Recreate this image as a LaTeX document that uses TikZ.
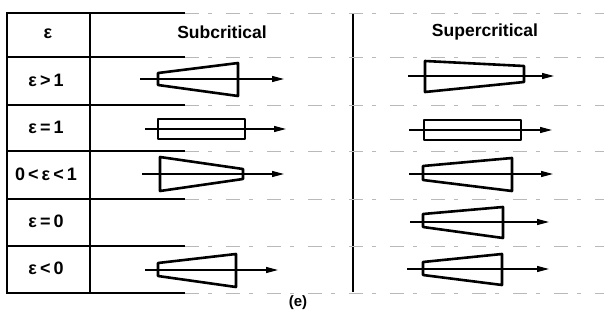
\documentclass[tikz,border=0pt]{standalone}
\usepackage{fontspec}
\setmainfont{Liberation Sans}
\usetikzlibrary{arrows.meta}
\tikzset{
  tbl/.style={line width=1.8pt},
  sep/.style={line width=2.6pt},
  faint/.style={line width=0.8pt, gray!55, dash pattern=on 14pt off 9pt on 4pt off 14pt},
  body/.style={line width=2.6pt, line join=round},
  axis/.style={line width=1.2pt, -{Triangle[length=12pt,width=6pt]}},
  lab/.style={font=\fontsize{18}{18}\selectfont\bfseries},
  head/.style={font=\fontsize{17.5}{18}\selectfont\bfseries},
}
\begin{document}
\begin{tikzpicture}[x=1pt,y=-1pt]
\useasboundingbox (0,0) rectangle (606,322);
% table frame
\coordinate (tl) at (7,13); \coordinate (bl) at (7,293);
\coordinate (vt) at (90,13); \coordinate (vb) at (90,293);
\coordinate (rt) at (353,13); \coordinate (rb) at (353,292);
\draw[sep] (tl) -- (bl);
\draw[sep] (vt) -- (vb);
\draw[sep] (rt) -- (rb);
\foreach \y in {13,57,105,151,199,246,293}{
  \draw[tbl] (6,\y) -- (185,\y);
  \draw[faint] (185,\y) -- (604,\y);
}
% headers
\node[lab] (h0) at (48,34) {ε};
\node[head] (h1) at (222,32) {Subcritical};
\node[head] (h2) at (485,32) {Supercritical};
% row labels
\node[lab] (r1) at (46,80) {ε\hspace{3pt}>\hspace{3pt}1};
\node[lab] (r2) at (46,127) {ε\hspace{3pt}=\hspace{3pt}1};
\node[lab, inner sep=0pt] (r3) at (46,174) {0\hspace{3pt}<\hspace{3pt}ε\hspace{3pt}<\hspace{3pt}1};
\node[lab] (r4) at (46,221) {ε\hspace{3pt}=\hspace{3pt}0};
\node[lab] (r5) at (46,268) {ε\hspace{3pt}<\hspace{3pt}0};
% ---- subcritical ----
% row 1
\draw[body] (158,73) -- (238,63) -- (238,96) -- (158,85) -- cycle;
\coordinate (a1s) at (140,79); \coordinate (a1e) at (284,79);
\draw[axis] (a1s) -- (a1e);
% row 2
\draw[body] (158,119) rectangle (245,139);
\coordinate (a2s) at (145,129); \coordinate (a2e) at (286,129);
\draw[axis] (a2s) -- (a2e);
% row 3
\draw[body] (160,157) -- (243,169) -- (243,179) -- (160,191) -- cycle;
\coordinate (a3s) at (142,174); \coordinate (a3e) at (284,174);
\draw[axis] (a3s) -- (a3e);
% row 5
\draw[body] (158,263) -- (236,254) -- (236,287) -- (158,276) -- cycle;
\coordinate (a5s) at (145,270); \coordinate (a5e) at (278,270);
\draw[axis] (a5s) -- (a5e);
% ---- supercritical ----
% row 1
\draw[body] (425,61) -- (524,66) -- (524,82) -- (425,92) -- cycle;
\coordinate (b1s) at (408,76); \coordinate (b1e) at (554,76);
\draw[axis] (b1s) -- (b1e);
% row 2
\draw[body] (424,120) rectangle (521,140);
\coordinate (b2s) at (409,130); \coordinate (b2e) at (552,130);
\draw[axis] (b2s) -- (b2e);
% row 3
\draw[body] (423,166) -- (512,158) -- (512,191) -- (423,180) -- cycle;
\coordinate (b3s) at (409,174); \coordinate (b3e) at (553,174);
\draw[axis] (b3s) -- (b3e);
% row 4
\draw[body] (423,214) -- (503,207) -- (503,238) -- (423,227) -- cycle;
\coordinate (b4s) at (410,222); \coordinate (b4e) at (549,222);
\draw[axis] (b4s) -- (b4e);
% row 5
\draw[body] (423,262) -- (502,254) -- (502,285) -- (423,275) -- cycle;
\coordinate (b5s) at (407,269); \coordinate (b5e) at (549,269);
\draw[axis] (b5s) -- (b5e);
% caption
\node[font=\fontsize{15}{15}\selectfont\bfseries] (cap) at (298,303) {(e)};
\end{tikzpicture}
\end{document}
